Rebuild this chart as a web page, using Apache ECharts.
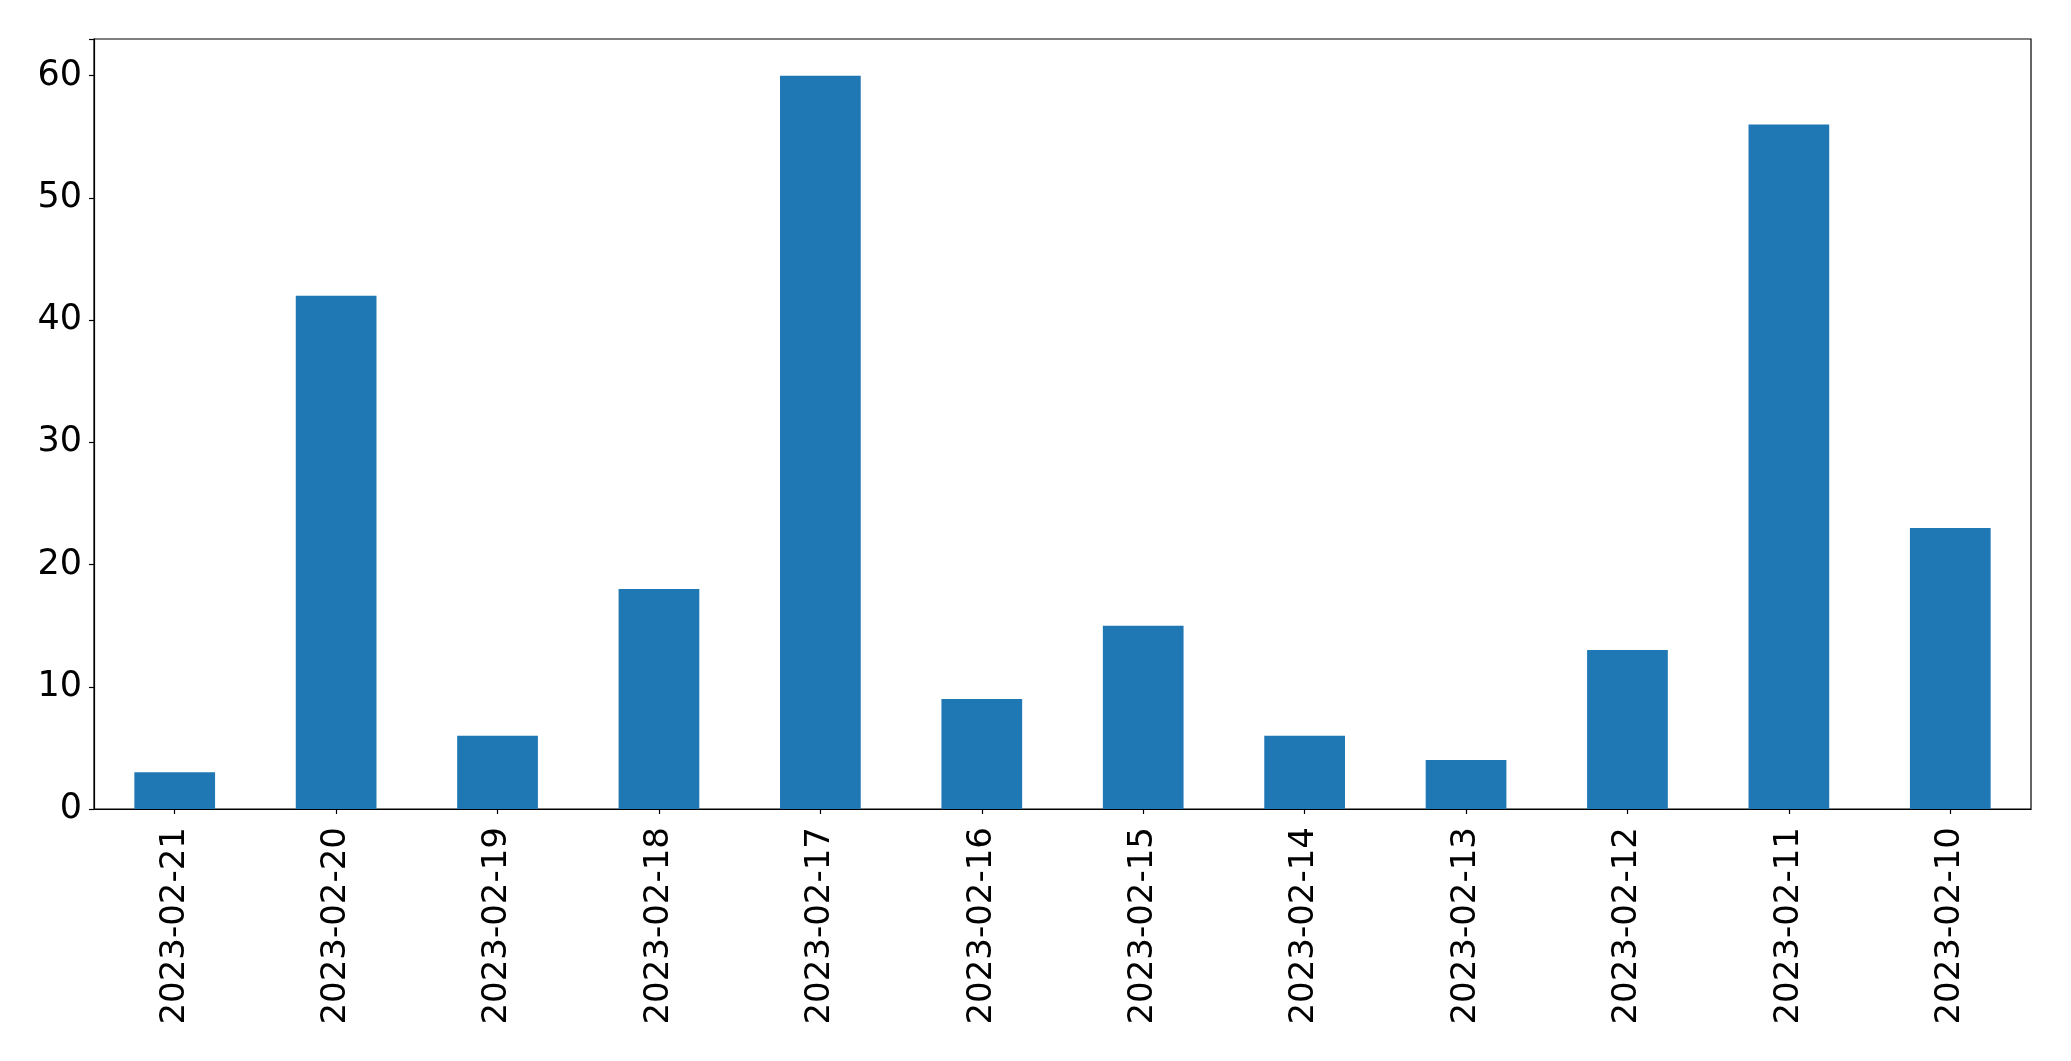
<!DOCTYPE html>
<html>
<head>
<meta charset="utf-8">
<script src="https://cdn.jsdelivr.net/npm/echarts@6/dist/echarts.min.js"></script>
<style>
html,body{margin:0;padding:0;background:#fff;}
#chart{width:2071px;height:1061px;}
</style>
</head>
<body>
<div id="chart"></div>
<script>
const categories = ["2023-02-21","2023-02-20","2023-02-19","2023-02-18","2023-02-17","2023-02-16","2023-02-15","2023-02-14","2023-02-13","2023-02-12","2023-02-11","2023-02-10"];
const values = [3, 42, 6, 18, 60, 9, 15, 6, 4, 13, 56, 23];
const yTicks = [0, 10, 20, 30, 40, 50, 60];

const chart = echarts.init(document.getElementById('chart'), null, {renderer: 'canvas'});
const font = 'DejaVu Sans';
chart.setOption({
  animation: false,
  backgroundColor: '#fff',
  grid: {left: 94, right: 40, top: 39, bottom: 252, show: true, borderColor: '#000', borderWidth: 1.2, containLabel: false},
  xAxis: {
    type: 'category',
    data: categories,
    boundaryGap: true,
    axisLine: {show: true, lineStyle: {color: '#000', width: 1.2}},
    axisTick: {show: true, alignWithLabel: true, length: 5, lineStyle: {color: '#000', width: 1.2}},
    axisLabel: {rotate: 90, margin: 18, color: '#000', fontFamily: font, fontSize: 34, interval: 0}
  },
  yAxis: {
    type: 'value',
    min: 0,
    max: 63,
    interval: 10,
    axisLine: {show: true, lineStyle: {color: '#000', width: 1.2}},
    axisTick: {show: true, length: 5, lineStyle: {color: '#000', width: 1.2}},
    splitLine: {show: false},
    axisLabel: {
      margin: 12, color: '#000', fontFamily: font, fontSize: 35,
      formatter: function (v) { return yTicks.indexOf(v) >= 0 ? String(v) : ''; }
    }
  },
  series: [{
    type: 'bar',
    data: values,
    barWidth: '50%',
    itemStyle: {color: '#1f77b4'}
  }]
});
</script>
</body>
</html>
